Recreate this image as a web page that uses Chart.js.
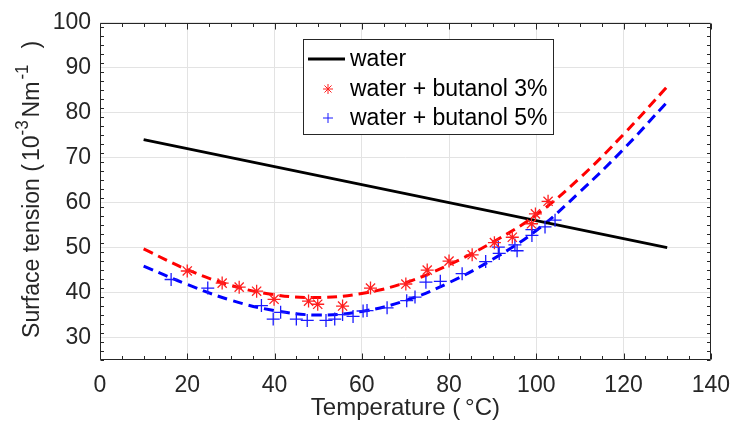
<!DOCTYPE html>
<html>
<head>
<meta charset="utf-8">
<style>
html,body{margin:0;padding:0;background:#ffffff;}
#wrap{width:742px;height:428px;}
</style>
<script src="https://cdn.jsdelivr.net/npm/chart.js@4/dist/chart.umd.min.js"></script>
</head>
<body>
<div id="wrap"><canvas id="c" width="742" height="428"></canvas></div>
<script>
// ---------------- data ----------------
const seriesLabels = ['water', 'water + butanol 3%', 'water + butanol 5%'];

const waterTemps   = [10, 130];
const waterTension = [74, 50];

const fitTemps = [10, 20, 30, 40, 50, 60, 70, 80, 90, 100, 110, 120, 130];
const fit3     = [49.7, 45.1, 41.6, 39.5, 38.9, 39.8, 42.2, 46.2, 51.2, 57.3, 65.5, 75.2, 85.8];
const fit5     = [45.9, 41.8, 38.3, 36.0, 35.0, 35.8, 38.2, 42.2, 47.4, 53.8, 62.4, 71.9, 82.4];

const but3Temps   = [20.0, 28.0, 31.9, 35.9, 39.9, 47.8, 49.9, 55.6, 62.0, 70.1, 75.0, 80.0, 85.3, 90.4, 94.5, 98.9, 99.8, 102.7];
const but3Tension = [44.8, 42.1, 41.2, 40.3, 38.5, 38.1, 37.4, 37.0, 41.0, 41.9, 45.0, 47.0, 48.4, 51.1, 52.3, 55.3, 57.5, 60.3];

const but5Temps   = [16.3, 24.7, 37.0, 39.7, 41.4, 45.0, 47.5, 51.8, 53.8, 55.6, 58.0, 60.3, 61.2, 65.8, 70.3, 72.2, 74.7, 78.0, 83.0, 88.4, 91.3, 91.5, 95.1, 95.6, 99.0, 99.0, 102.0, 104.3];
const but5Tension = [42.9, 41.0, 37.1, 34.1, 35.6, 34.1, 33.8, 33.8, 34.1, 35.1, 34.7, 35.9, 36.0, 36.6, 38.2, 39.0, 42.3, 42.5, 44.2, 46.9, 50.1, 48.7, 50.6, 49.3, 52.7, 54.0, 54.6, 56.1];

const xTicks = [0, 20, 40, 60, 80, 100, 120, 140];
const yTicks = [30, 40, 50, 60, 70, 80, 90, 100];
const xRange = [0, 140];
const yRange = [25, 100];
const xMinorStep = 5;
const yMinorStep = 2;

const axisTitleX = 'Temperature (\u2009\u00B0C)';
// y title pieces: [text, isSuperscript]
const axisTitleYParts = [['Surface tension (', false], ['10', false], ['-3', true], ['Nm', false], ['-1', true], [')', false]];

// ---------------- helpers ----------------
const pts = (xs, ys) => xs.map((v, i) => ({x: v, y: ys[i]}));
const AX = '#262626';
const GRID = '#e3e3e3';
const FONT = '"Liberation Sans", Arial, Helvetica, sans-serif';

// frame (box + inward ticks on all four sides)
const framePlugin = {
  id: 'frame',
  afterDatasetsDraw(chart) {
    const {ctx, chartArea: ca, scales: {x, y}} = chart;
    ctx.save();
    ctx.strokeStyle = AX;
    ctx.lineWidth = 1;
    ctx.beginPath();
    const L = Math.round(ca.left) + 0.5, R = Math.round(ca.right) - 0.5;
    const T = Math.round(ca.top) + 0.5, B = Math.round(ca.bottom) - 0.5;
    ctx.rect(L, T, R - L, B - T);
    for (let v = xRange[0]; v <= xRange[1] + 1e-9; v += xMinorStep) {
      const px = Math.round(x.getPixelForValue(v)) + 0.5;
      const len = xTicks.includes(v) ? 6 : 3.5;
      ctx.moveTo(px, B); ctx.lineTo(px, B - len);
      ctx.moveTo(px, T); ctx.lineTo(px, T + len);
    }
    for (let v = yRange[0]; v <= yRange[1] + 1e-9; v += yMinorStep) {
      const py = Math.round(y.getPixelForValue(v)) + 0.5;
      const len = yTicks.includes(v) ? 6 : 3.5;
      ctx.moveTo(L, py); ctx.lineTo(L + len, py);
      ctx.moveTo(R, py); ctx.lineTo(R - len, py);
    }
    ctx.stroke();
    ctx.restore();
  }
};

// y axis title with real superscripts, drawn rotated
const yTitlePlugin = {
  id: 'yTitle',
  afterDraw(chart) {
    const ctx = chart.ctx;
    const ca = chart.chartArea;
    const big = 23, small = 17;
    const gaps = [0, 3, 0, 3, 2, 16];
    ctx.save();
    ctx.fillStyle = AX;
    ctx.textBaseline = 'alphabetic';
    ctx.textAlign = 'left';
    let total = 0;
    const widths = axisTitleYParts.map(([t, sup], i) => {
      ctx.font = (sup ? small : big) + 'px ' + FONT;
      const w = ctx.measureText(t).width;
      total += w + gaps[i];
      return w;
    });
    const cy = (ca.top + ca.bottom) / 2 - 2;
    ctx.translate(38.5, cy);
    ctx.rotate(-Math.PI / 2);
    ctx.scale(1, 1.08);
    let pos = -total / 2;
    axisTitleYParts.forEach(([t, sup], i) => {
      pos += gaps[i];
      ctx.font = (sup ? small : big) + 'px ' + FONT;
      ctx.fillText(t, pos, sup ? -10 : 0);
      pos += widths[i];
    });
    ctx.restore();
  }
};

function drawMarker(ctx, style, cx, cy, r) {
  ctx.beginPath();
  ctx.moveTo(cx - r, cy); ctx.lineTo(cx + r, cy);
  ctx.moveTo(cx, cy - r); ctx.lineTo(cx, cy + r);
  if (style === 'star') {
    const d = r * Math.SQRT1_2;
    ctx.moveTo(cx - d, cy - d); ctx.lineTo(cx + d, cy + d);
    ctx.moveTo(cx - d, cy + d); ctx.lineTo(cx + d, cy - d);
  }
  ctx.stroke();
}

// boxed legend inside the axes
const legendPlugin = {
  id: 'boxLegend',
  afterDraw(chart) {
    const ctx = chart.ctx;
    const box = {left: 304, top: 40, width: 249, height: 94};
    const rows = [59, 89, 118];
    ctx.save();
    ctx.fillStyle = '#ffffff';
    ctx.fillRect(box.left, box.top, box.width, box.height);
    ctx.strokeStyle = AX;
    ctx.lineWidth = 1;
    ctx.strokeRect(box.left - 0.5, box.top - 0.5, box.width + 1, box.height + 1);
    const entries = chart.data.datasets.filter(d => d.legendIndex !== undefined)
      .sort((a, b) => a.legendIndex - b.legendIndex);
    entries.forEach((d, i) => {
      const yy = rows[i];
      if (d.legendKind === 'line') {
        ctx.strokeStyle = d.borderColor;
        ctx.lineWidth = d.borderWidth;
        ctx.setLineDash([]);
        ctx.beginPath();
        ctx.moveTo(308, yy); ctx.lineTo(345, yy);
        ctx.stroke();
      } else {
        ctx.strokeStyle = d.pointBorderColor;
        ctx.lineWidth = 1;
        drawMarker(ctx, d.pointStyle, 328, yy, 5);
      }
      ctx.fillStyle = '#000000';
      ctx.font = '23px ' + FONT;
      ctx.textBaseline = 'middle';
      ctx.textAlign = 'left';
      ctx.fillText(d.label, 350, yy + 1);
    });
    ctx.restore();
  }
};

new Chart(document.getElementById('c'), {
  type: 'scatter',
  data: {
    datasets: [
      {
        label: seriesLabels[1], data: pts(but3Temps, but3Tension),
        pointStyle: 'star', pointRadius: 6.5, pointBorderColor: '#ff2020', pointBackgroundColor: '#ff2020',
        pointBorderWidth: 1.3, showLine: false, order: 0, legendIndex: 1, legendKind: 'marker'
      },
      {
        label: seriesLabels[2], data: pts(but5Temps, but5Tension),
        pointStyle: 'cross', pointRadius: 6.5, pointBorderColor: '#1a1aff', pointBackgroundColor: '#1a1aff',
        pointBorderWidth: 1.3, showLine: false, order: 0, legendIndex: 2, legendKind: 'marker'
      },
      {
        label: seriesLabels[0], data: pts(waterTemps, waterTension),
        showLine: true, borderColor: '#000000', borderWidth: 2.8, pointRadius: 0,
        order: 1, legendIndex: 0, legendKind: 'line'
      },
      {
        label: seriesLabels[1] + ' fit', data: pts(fitTemps, fit3),
        showLine: true, borderColor: '#ff0000', borderWidth: 3, borderDash: [10, 6],
        tension: 0.4, pointRadius: 0, order: 2
      },
      {
        label: seriesLabels[2] + ' fit', data: pts(fitTemps, fit5),
        showLine: true, borderColor: '#0000ff', borderWidth: 3, borderDash: [10, 6],
        tension: 0.4, pointRadius: 0, order: 2
      }
    ]
  },
  options: {
    responsive: false,
    devicePixelRatio: 1,
    animation: false,
    events: [],
    layout: {padding: {top: 14, right: 25, left: 0, bottom: 0}},
    plugins: {legend: {display: false}, tooltip: {enabled: false}},
    scales: {
      x: {
        type: 'linear', min: xRange[0], max: xRange[1],
        afterBuildTicks: s => { s.ticks = xTicks.map(v => ({value: v})); },
        afterFit: s => { s.height = 68; },
        grid: {color: GRID, lineWidth: 1, drawTicks: false},
        border: {display: false},
        ticks: {color: AX, font: {family: FONT, size: 23}, padding: 12, maxRotation: 0, autoSkip: false},
        title: {display: true, text: axisTitleX, color: AX, font: {family: FONT, size: 24}, padding: {top: 0, bottom: 5}}
      },
      y: {
        type: 'linear', min: yRange[0], max: yRange[1],
        afterBuildTicks: s => { s.ticks = yTicks.map(v => ({value: v})); },
        afterFit: s => { s.width = 100; },
        grid: {color: GRID, lineWidth: 1, drawTicks: false},
        border: {display: false},
        ticks: {color: AX, font: {family: FONT, size: 23}, padding: 9, autoSkip: false},
        title: {display: false, text: axisTitleYParts.map(p => p[0]).join('')}
      }
    }
  },
  plugins: [framePlugin, yTitlePlugin, legendPlugin]
});
</script>
</body>
</html>
